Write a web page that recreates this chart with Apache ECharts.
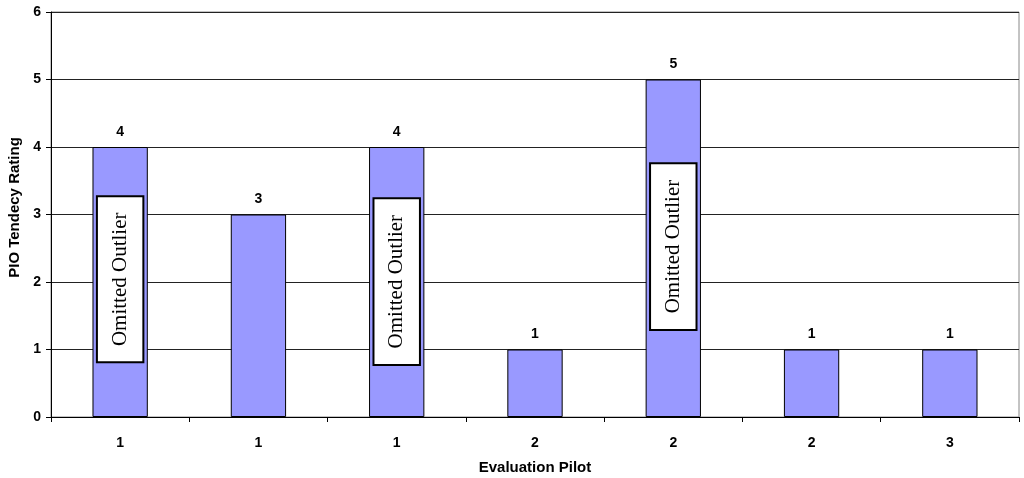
<!DOCTYPE html>
<html><head><meta charset="utf-8">
<script src="https://cdn.jsdelivr.net/npm/echarts@6/dist/echarts.min.js"></script>
<style>html,body{margin:0;padding:0;background:#fff}#c{width:1024px;height:478px}</style>
</head><body><div id="c"></div>
<script>
const categories = ['1','1','1','2','2','2','3'];
const ratings = [4,3,4,1,5,1,1];
// Annotation boxes: category index, lower and upper value of the box
const noteIndex = [0,2,4];
const noteLow = [0.81,0.77,1.29];
const noteHigh = [3.27,3.24,3.76];
const noteText = 'Omitted Outlier';

const chart = echarts.init(document.getElementById('c'));
const font = 'Liberation Sans, Arial, sans-serif';
chart.setOption({
  animation:false,
  grid:{left:51,right:5,top:12,bottom:61,show:true,borderColor:'#888',borderWidth:1,outerBoundsMode:'none',containLabel:false},
  xAxis:{type:'category',data:categories,
    name:'Evaluation Pilot',nameLocation:'middle',nameGap:43,
    nameTextStyle:{fontFamily:font,fontWeight:'bold',fontSize:15,color:'#000'},
    axisLine:{lineStyle:{color:'#000',width:1}},
    axisTick:{show:true,alignWithLabel:false,length:5,lineStyle:{color:'#000'}},
    axisLabel:{fontFamily:font,fontWeight:'bold',fontSize:14,color:'#000',margin:19}},
  yAxis:{type:'value',min:0,max:6,interval:1,
    name:'PIO Tendecy Rating',nameLocation:'middle',nameGap:28,
    nameTextStyle:{fontFamily:font,fontWeight:'bold',fontSize:15,color:'#000',padding:[0,0,0,14]},
    axisLine:{show:true,lineStyle:{color:'#000',width:1}},
    axisTick:{show:true,length:5,lineStyle:{color:'#000'}},
    axisLabel:{fontFamily:font,fontWeight:'bold',fontSize:14,color:'#000',margin:10},
    splitLine:{lineStyle:{color:'#222',width:1}}},
  series:[{type:'bar',data:ratings,barWidth:'40%',
    itemStyle:{color:'#9999ff',borderColor:'#000',borderWidth:1},
    label:{show:true,position:'top',distance:8,fontFamily:font,fontWeight:'bold',fontSize:14,color:'#000'}},
  {type:'custom',data:noteIndex.map((c,i)=>[c,noteLow[i],noteHigh[i]]),
    z:5,
    renderItem:function(params,api){
      const lo = api.coord([api.value(0),api.value(1)]);
      const hi = api.coord([api.value(0),api.value(2)]);
      const bw = api.size([1,0])[0]*0.4;
      const w = bw*0.84;
      const x = lo[0]-w/2;
      return {type:'group',children:[
        {type:'rect',shape:{x:x,y:hi[1],width:w,height:lo[1]-hi[1]},
          style:{fill:'#fff',stroke:'#000',lineWidth:2}},
        {type:'text',x:lo[0],y:(lo[1]+hi[1])/2,rotation:Math.PI/2,
          style:{text:noteText,fontFamily:'Liberation Serif, Times New Roman, serif',fontSize:21,fill:'#000',align:'center',verticalAlign:'middle'}}
      ]};
    }}]
});
</script></body></html>
